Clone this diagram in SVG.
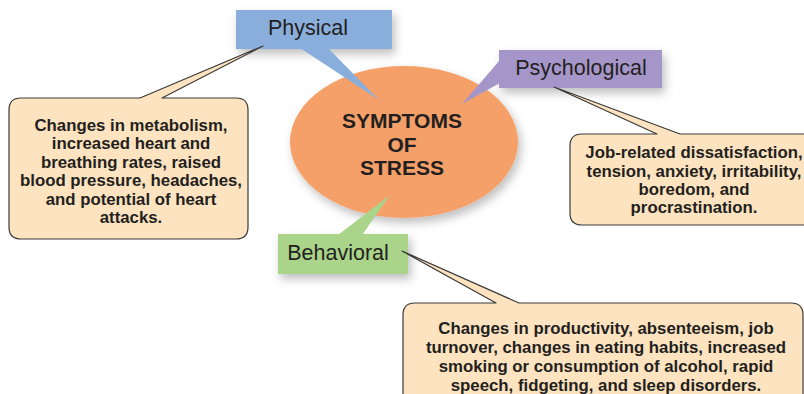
<svg xmlns="http://www.w3.org/2000/svg" width="804" height="394" viewBox="0 0 804 394">
<defs>
<filter id="sh" x="-30%" y="-30%" width="160%" height="180%">
<feDropShadow dx="3" dy="5" stdDeviation="5" flood-color="#000" flood-opacity="0.25"/>
</filter>
<style>
.lbl{font-family:"Liberation Sans",Arial,sans-serif;font-size:21.5px;fill:#231f20;text-anchor:middle}
.ttl{font-family:"Liberation Sans",Arial,sans-serif;font-size:21px;font-weight:bold;fill:#231f20;text-anchor:middle}
.txt{font-family:"Liberation Sans",Arial,sans-serif;font-size:16.8px;font-weight:bold;fill:#231f20;text-anchor:middle}
.call{fill:#fde3bf;stroke:#3a3a3a;stroke-width:1.2;stroke-linejoin:round}
</style>
</defs>
<rect width="804" height="394" fill="#fff"/>
<g id="center">
<ellipse cx="404" cy="142" rx="114" ry="76" fill="#f5a068" filter="url(#sh)"/>
<text class="ttl" x="402" y="128">SYMPTOMS</text>
<text class="ttl" x="402" y="151.5">OF</text>
<text class="ttl" x="402" y="175">STRESS</text>
</g>
<g id="physical">
<rect x="236" y="10" width="156" height="39" fill="#8aaedc" filter="url(#sh)"/>
<polygon points="300,48 328,48 379,100" fill="#8aaedc"/>
<text class="lbl" x="308" y="35">Physical</text>
</g>
<g id="psychological">
<rect x="499" y="50" width="163" height="38" fill="#a596c9" filter="url(#sh)"/>
<polygon points="500,60 500,83 462,104" fill="#a596c9"/>
<text class="lbl" x="581" y="75">Psychological</text>
</g>
<g id="behavioral">
<rect x="278" y="234" width="130" height="40" fill="#a9d48a" filter="url(#sh)"/>
<polygon points="338,235 362,235 390,195" fill="#a9d48a"/>
<text class="lbl" x="338" y="260">Behavioral</text>
</g>
<g id="connectors">
<path class="call" d="M21 98 H140 L263 46 L162 98 H236 Q248 98 248 110 V227 Q248 239 236 239 H21 Q9 239 9 227 V110 Q9 98 21 98 Z"/>
<path class="call" d="M582 134 H657 L554 87 L680 134 H820 V225 H582 Q570 225 570 213 V146 Q570 134 582 134 Z"/>
<path class="call" d="M415 303 H496 L402 251 L519 303 H791 Q803 303 803 315 V400 H403 V315 Q403 303 415 303 Z"/>
</g>
<g id="physical-detail">
<text class="txt" x="131" y="130.5">Changes in metabolism,</text>
<text class="txt" x="131" y="149">increased heart and</text>
<text class="txt" x="131" y="167.5">breathing rates, raised</text>
<text class="txt" x="131" y="186">blood pressure, headaches,</text>
<text class="txt" x="131" y="204.5">and potential of heart</text>
<text class="txt" x="131" y="223">attacks.</text>
</g>
<g id="psychological-detail">
<text class="txt" x="694" y="158.3">Job-related dissatisfaction,</text>
<text class="txt" x="694" y="176.6">tension, anxiety, irritability,</text>
<text class="txt" x="694" y="194.9">boredom, and</text>
<text class="txt" x="694" y="213.2">procrastination.</text>
</g>
<g id="behavioral-detail">
<text class="txt" x="606" y="334">Changes in productivity, absenteeism, job</text>
<text class="txt" x="606" y="353">turnover, changes in eating habits, increased</text>
<text class="txt" x="606" y="372">smoking or consumption of alcohol, rapid</text>
<text class="txt" x="606" y="391">speech, fidgeting, and sleep disorders.</text>
</g>
</svg>
